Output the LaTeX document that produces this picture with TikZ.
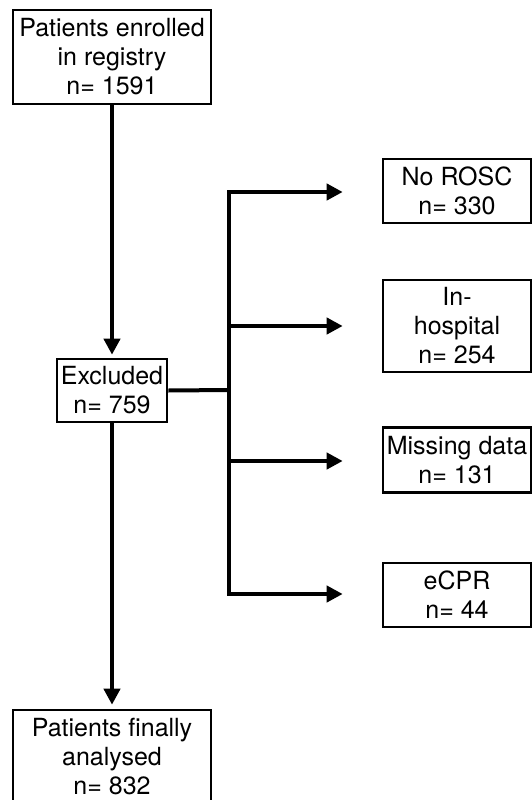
\documentclass[tikz,border=0pt]{standalone}
\usepackage{fontspec}
\setmainfont{TeX Gyre Heros}
\usepackage{tikz}
\usetikzlibrary{arrows.meta,calc,positioning}

\begin{document}
\begin{tikzpicture}[x=1pt,y=-1pt,
  box/.style={draw,line width=2.6pt,align=center,inner sep=0pt,
    font=\fontsize{25}{29}\selectfont},
  link/.style={line width=4pt},
  flow/.style={line width=4pt,-{Triangle[length=16pt,width=16pt]}}]
\useasboundingbox (0,0) rectangle (532,800);

\node (enrol) at (112,57) [box,minimum width=198pt,minimum height=94pt] {Patients enrolled\\in registry\\n= 1591};
\node (excl) at (112,390.5) [box,minimum width=110pt,minimum height=63pt] {Excluded\\n= 759};
\node (final) at (112,757) [box,minimum width=198pt,minimum height=94pt] {Patients finally\\analysed\\n= 832};

\node (rosc) at (457,191) [box,minimum width=148pt,minimum height=64pt] {No ROSC\\n= 330};
\node (hosp) at (457,326) [box,minimum width=148pt,minimum height=92pt] {In-\\hospital\\n= 254};
\node (miss) at (457,460) [box,minimum width=148pt,minimum height=65pt] {Missing data\\n= 131};
\node (ecpr) at (457,595) [box,minimum width=148pt,minimum height=64pt] {eCPR\\n= 44};

\coordinate (split) at (229,390);
\coordinate (t1) at (229,192);
\coordinate (t2) at (229,326);
\coordinate (t3) at (229,461);
\coordinate (t4) at (229,594);

\draw[flow,shorten >=3pt] (enrol) -- (excl);
\draw[flow,shorten >=4pt] (excl) -- (final);
\draw[link] (excl.east) -- (split);

\draw[flow,shorten >=39pt] (t4) -- (t1) -- (t1 -| rosc.west);
\draw[flow,shorten >=39pt] (t1) -- (t4) -- (t4 -| ecpr.west);
\draw[flow,shorten >=39pt] (t2) -- (t2 -| hosp.west);
\draw[flow,shorten >=39pt] (t3) -- (t3 -| miss.west);
\end{tikzpicture}
\end{document}
